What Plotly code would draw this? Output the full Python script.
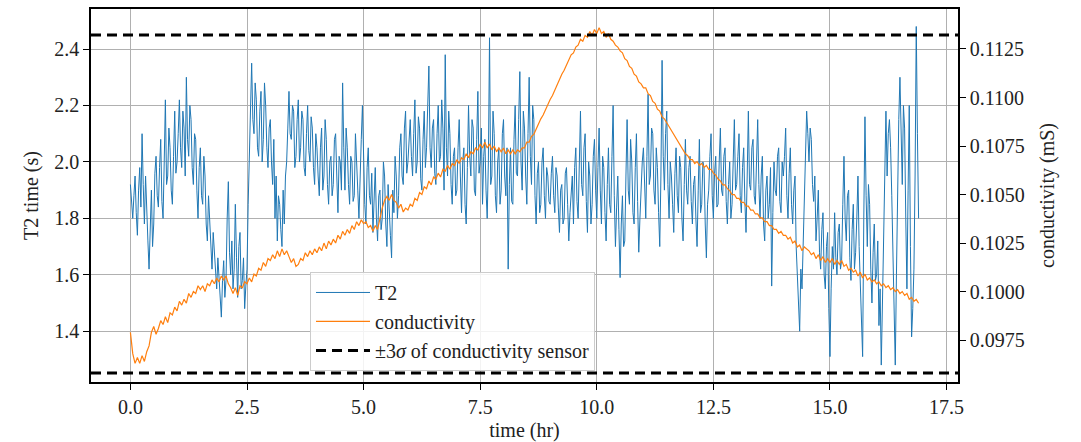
import plotly.graph_objects as go

# ---------------- data ----------------
T2_DT = 0.025  # hr between T2 samples
t2_values = [
    # 0.00 - 0.975
    1.92, 1.85, 1.80, 1.88, 1.95, 1.82, 1.74, 1.90, 1.98, 1.84, 2.10, 1.92, 1.78, 1.95, 1.86, 1.72, 1.62, 1.80, 1.90, 1.70,
    1.78, 1.96, 2.02, 1.88, 1.84, 1.98, 2.08, 1.86, 1.80, 2.00, 2.22, 1.92, 1.95, 2.12, 2.05, 1.90, 1.85, 2.02, 2.18, 1.96,
    # 1.00 - 1.975
    2.00, 2.10, 2.22, 2.05, 1.98, 2.18, 2.12, 1.95, 2.30, 2.08, 2.02, 2.20, 2.15, 1.98, 1.92, 2.10, 2.08, 1.90, 1.80, 1.98,
    2.05, 1.88, 1.85, 2.02, 1.95, 1.78, 1.72, 1.88, 1.80, 1.68, 1.62, 1.75, 1.68, 1.58, 1.55, 1.66, 1.60, 1.52, 1.45, 1.58,
    # 2.00 - 2.975
    1.65, 1.52, 1.58, 1.80, 1.93, 1.68, 1.60, 1.72, 1.55, 1.62, 1.85, 1.66, 1.52, 1.70, 1.75, 1.55, 1.58, 1.66, 1.48, 1.56,
    1.62, 1.85, 2.05, 2.18, 2.35, 2.15, 2.10, 2.28, 2.22, 2.05, 2.02, 2.18, 2.25, 2.00, 2.08, 2.28, 2.20, 2.05, 1.98, 2.12,
    # 3.00 - 3.975
    2.15, 2.00, 1.92, 2.08, 1.80, 1.95, 1.72, 1.88, 1.85, 1.76, 1.70, 1.90, 1.78, 1.95, 2.00, 2.12, 2.25, 2.10, 2.08, 2.20,
    2.18, 1.98, 2.02, 2.15, 2.22, 2.00, 2.05, 2.18, 2.15, 1.98, 1.95, 2.10, 2.20, 2.04, 2.00, 2.16, 2.12, 1.98, 1.92, 2.10,
    # 4.00 - 4.975
    2.05, 1.95, 1.88, 2.05, 2.12, 1.90, 1.95, 2.15, 2.08, 1.92, 1.85, 2.00, 2.02, 1.88, 1.92, 2.08, 2.10, 1.95, 1.82, 2.02,
    2.00, 1.90, 2.28, 2.05, 1.90, 2.12, 2.05, 1.92, 1.85, 2.02, 2.00, 1.86, 1.88, 2.10, 2.02, 1.90, 1.80, 1.98, 2.08, 2.20,
    # 5.00 - 5.975
    1.95, 1.85, 1.78, 1.98, 2.05, 1.88, 1.85, 1.96, 1.75, 1.90, 1.98, 1.80, 1.72, 1.88, 1.90, 1.76, 1.80, 2.00, 1.95, 1.78,
    1.70, 1.92, 1.85, 1.74, 1.66, 1.90, 1.82, 2.02, 1.95, 1.80, 1.88, 2.05, 2.10, 1.95, 1.92, 2.12, 2.18, 1.96, 2.00, 2.10,
    # 6.00 - 6.975
    2.15, 2.02, 1.95, 2.10, 2.22, 1.96, 2.00, 2.16, 2.12, 1.94, 1.90, 2.08, 2.18, 1.98, 2.05, 2.20, 2.34, 2.05, 1.98, 2.12,
    2.15, 1.96, 1.92, 2.10, 2.20, 2.00, 2.02, 2.22, 2.12, 1.90, 2.38, 2.05, 1.95, 2.18, 2.10, 1.92, 1.85, 2.02, 2.05, 1.88,
    # 7.00 - 7.975
    1.90, 2.05, 2.15, 1.95, 1.82, 2.00, 2.05, 1.85, 1.78, 1.98, 2.20, 2.02, 1.95, 2.15, 2.12, 1.90, 1.88, 2.08, 2.25, 1.96,
    2.00, 2.12, 1.85, 2.02, 2.08, 1.90, 1.80, 2.00, 2.44, 1.92, 1.95, 2.18, 2.10, 1.88, 1.82, 2.00, 2.05, 1.85, 1.90, 2.10,
    # 8.00 - 8.975
    2.15, 1.95, 1.88, 2.05, 1.62, 1.92, 2.05, 1.86, 1.85, 2.08, 2.20, 1.96, 1.95, 2.15, 2.32, 2.00, 1.90, 2.18, 2.12, 1.95,
    1.85, 2.10, 2.30, 2.02, 1.92, 2.20, 2.15, 1.88, 1.78, 1.96, 2.00, 1.82, 1.85, 2.00, 2.05, 1.88, 1.80, 1.98, 1.95, 1.86,
    # 9.00 - 9.975
    1.85, 1.96, 2.02, 1.88, 1.82, 1.98, 1.95, 1.84, 1.75, 1.90, 1.92, 1.78, 1.80, 1.96, 1.98, 1.85, 1.72, 1.82, 1.88, 1.95,
    1.78, 1.98, 2.05, 1.86, 1.80, 2.00, 2.18, 1.92, 1.88, 2.05, 2.10, 1.86, 1.75, 2.00, 1.95, 1.78, 1.85, 2.02, 2.08, 1.90,
    # 10.00 - 10.975
    1.80, 1.98, 2.12, 1.90, 1.78, 2.02, 1.98, 1.82, 1.72, 1.92, 2.05, 1.85, 1.82, 2.02, 2.20, 1.88, 1.70, 1.84, 1.95, 1.76,
    1.59, 1.78, 1.88, 1.70, 1.72, 1.95, 2.15, 1.90, 1.85, 2.08, 2.00, 1.82, 1.78, 1.98, 2.10, 1.86, 1.68, 1.80, 1.92, 2.00,
    # 11.00 - 11.975
    2.05, 1.88, 1.80, 2.02, 2.24, 1.92, 1.95, 2.12, 2.10, 1.90, 1.85, 2.05, 1.98, 1.82, 1.70, 1.95, 2.36, 2.02, 1.90, 2.10,
    2.18, 1.92, 1.80, 2.00, 1.95, 1.85, 1.75, 1.96, 2.05, 1.88, 1.82, 2.02, 1.98, 1.80, 1.72, 1.92, 2.08, 1.90, 1.85, 1.98,
    # 12.00 - 12.975
    2.02, 1.86, 1.78, 1.92, 1.95, 1.80, 1.70, 1.90, 2.08, 1.82, 1.85, 2.00, 1.98, 1.78, 1.66, 1.85, 1.90, 2.02, 2.10, 1.88,
    1.80, 1.96, 2.02, 1.84, 1.85, 2.00, 2.12, 1.90, 1.88, 2.02, 2.05, 1.86, 1.78, 1.92, 2.00, 1.80, 1.85, 2.00, 2.15, 1.90,
    # 13.00 - 13.975
    1.92, 2.02, 2.10, 1.88, 1.82, 1.98, 2.05, 1.86, 1.75, 1.95, 2.18, 1.92, 1.90, 2.05, 2.08, 1.88, 1.85, 2.00, 2.15, 1.92,
    1.80, 1.95, 2.02, 1.78, 1.72, 1.90, 1.95, 1.80, 1.85, 1.98, 1.56, 1.82, 2.00, 1.90, 1.88, 2.02, 2.05, 1.86, 1.82, 2.00,
    # 14.00 - 14.975
    1.95, 2.02, 2.12, 1.88, 1.80, 1.96, 2.05, 1.85, 1.78, 1.90, 1.95, 1.70, 1.62, 1.50, 1.40, 1.62, 1.55, 1.72, 1.85, 2.05,
    2.18, 2.10, 2.00, 2.12, 2.08, 1.92, 1.86, 1.95, 1.72, 1.80, 1.90, 1.68, 1.62, 1.76, 1.82, 1.60, 1.55, 1.70, 1.75, 1.48,
    # 15.00 - 15.975
    1.31, 1.55, 1.70, 1.62, 1.82, 1.66, 1.60, 1.75, 1.78, 1.62, 1.65, 1.85, 2.02, 1.80, 1.72, 1.88, 1.90, 1.66, 1.58, 1.76,
    1.85, 1.62, 1.68, 1.80, 1.95, 1.70, 1.55, 1.45, 1.31, 1.80, 2.16, 1.88, 1.70, 1.92, 1.85, 1.62, 1.50, 1.68, 1.78, 1.58,
    # 16.00 - 16.90
    1.60, 1.72, 1.42, 1.55, 1.28, 1.50, 1.75, 2.02, 2.18, 1.95, 2.10, 2.15, 2.05, 1.88, 1.70, 1.52, 1.28, 1.60, 1.95, 2.15,
    2.30, 2.05, 1.92, 2.20, 2.12, 1.80, 1.55, 1.90, 2.20, 1.70, 1.38, 1.48, 1.62, 1.95, 2.48, 2.10, 1.80,
]

COND_DT = 0.05  # hr between conductivity samples
cond_values = [
    # 0.00 - 0.95
    0.0979, 0.0968, 0.0963, 0.0966, 0.0963, 0.0967, 0.0964, 0.0969, 0.0972, 0.0979,
    0.0982, 0.0978, 0.0981, 0.0985, 0.0983, 0.0987, 0.0984, 0.0989, 0.0988, 0.0992,
    # 1.00 - 1.95
    0.0990, 0.0995, 0.0993, 0.0996, 0.0994, 0.0999, 0.0997, 0.1000, 0.0999, 0.1003,
    0.1001, 0.1003, 0.1000, 0.1004, 0.1003, 0.1006, 0.1004, 0.1007, 0.1005, 0.1008,
    # 2.00 - 2.95
    0.1006, 0.1008, 0.1004, 0.1002, 0.0999, 0.1002, 0.0998, 0.1003, 0.1002, 0.1005,
    0.1004, 0.1007, 0.1005, 0.1009, 0.1008, 0.1012, 0.1011, 0.1015, 0.1013, 0.1017,
    # 3.00 - 3.95
    0.1016, 0.1019, 0.1017, 0.1021, 0.1018, 0.1022, 0.1019, 0.1021, 0.1018, 0.1015,
    0.1017, 0.1013, 0.1014, 0.1017, 0.1016, 0.1020, 0.1018, 0.1021, 0.1019, 0.1022,
    # 4.00 - 4.95
    0.1020, 0.1023, 0.1021, 0.1025, 0.1022, 0.1026, 0.1024, 0.1027, 0.1025, 0.1029,
    0.1027, 0.1031, 0.1029, 0.1032, 0.1030, 0.1034, 0.1032, 0.1036, 0.1034, 0.1037,
    # 5.00 - 5.95
    0.1035, 0.1036, 0.1033, 0.1034, 0.1031, 0.1034, 0.1032, 0.1038, 0.1043, 0.1047,
    0.1049, 0.1047, 0.1050, 0.1047, 0.1046, 0.1043, 0.1045, 0.1041, 0.1043, 0.1042,
    # 6.00 - 6.95
    0.1045, 0.1044, 0.1048, 0.1047, 0.1051, 0.1050, 0.1054, 0.1053, 0.1057, 0.1055,
    0.1059, 0.1058, 0.1061, 0.1059, 0.1063, 0.1062, 0.1065, 0.1063, 0.1066, 0.1065,
    # 7.00 - 7.95
    0.1068, 0.1066, 0.1069, 0.1068, 0.1071, 0.1069, 0.1072, 0.1071, 0.1074, 0.1073,
    0.1076, 0.1074, 0.1077, 0.1074, 0.1076, 0.1073, 0.1075, 0.1072, 0.1074, 0.1072,
    # 8.00 - 8.95
    0.1074, 0.1071, 0.1073, 0.1071, 0.1073, 0.1071, 0.1073, 0.1072, 0.1074, 0.1074,
    0.1077, 0.1077, 0.1080, 0.1081, 0.1084, 0.1086, 0.1089, 0.1091, 0.1094, 0.1096,
    # 9.00 - 9.95
    0.1099, 0.1101, 0.1104, 0.1107, 0.1109, 0.1112, 0.1114, 0.1117, 0.1119, 0.1122,
    0.1123, 0.1126, 0.1127, 0.1130, 0.1129, 0.1132, 0.1131, 0.1134, 0.1132, 0.1135,
    # 10.00 - 10.95
    0.1133, 0.1136, 0.1133, 0.1134, 0.1131, 0.1133, 0.1130, 0.1129, 0.1127, 0.1126,
    0.1124, 0.1123, 0.1120, 0.1119, 0.1116, 0.1115, 0.1112, 0.1111, 0.1108, 0.1107,
    # 11.00 - 11.95
    0.1105, 0.1105, 0.1102, 0.1101, 0.1098, 0.1097, 0.1094, 0.1093, 0.1090, 0.1089,
    0.1087, 0.1085, 0.1083, 0.1081, 0.1079, 0.1077, 0.1075, 0.1073, 0.1071, 0.1070,
    # 12.00 - 12.95
    0.1068, 0.1068, 0.1066, 0.1067, 0.1065, 0.1066, 0.1064, 0.1065, 0.1063, 0.1063,
    0.1061, 0.1060, 0.1058, 0.1057, 0.1055, 0.1055, 0.1053, 0.1052, 0.1050, 0.1050,
    # 13.00 - 13.95
    0.1048, 0.1048, 0.1046, 0.1046, 0.1044, 0.1044, 0.1042, 0.1042, 0.1040, 0.1040,
    0.1038, 0.1038, 0.1036, 0.1036, 0.1034, 0.1034, 0.1032, 0.1032, 0.1030, 0.1031,
    # 14.00 - 14.95
    0.1029, 0.1029, 0.1027, 0.1028, 0.1025, 0.1026, 0.1023, 0.1024, 0.1021, 0.1023,
    0.1022, 0.1021, 0.1019, 0.1020, 0.1017, 0.1019, 0.1016, 0.1018, 0.1015, 0.1017,
    # 15.00 - 15.95
    0.1015, 0.1017, 0.1014, 0.1016, 0.1014, 0.1016, 0.1013, 0.1014, 0.1011, 0.1012,
    0.1010, 0.1011, 0.1008, 0.1010, 0.1007, 0.1009, 0.1006, 0.1007, 0.1005, 0.1006,
    # 16.00 - 16.90
    0.1004, 0.1005, 0.1003, 0.1004, 0.1002, 0.1003, 0.1001, 0.1002, 0.1000, 0.1001,
    0.0999, 0.1000, 0.0998, 0.0999, 0.0996, 0.0997, 0.0995, 0.0996, 0.0994,
]

sigma_bounds = [0.0958, 0.11322]  # ±3σ of conductivity sensor (mS)

x_ticks = [0.0, 2.5, 5.0, 7.5, 10.0, 12.5, 15.0, 17.5]
t2_ticks = [1.4, 1.6, 1.8, 2.0, 2.2, 2.4]
cond_ticks = [0.0975, 0.1000, 0.1025, 0.1050, 0.1075, 0.1100, 0.1125]

t2_time = [i * T2_DT for i in range(len(t2_values))]
cond_time = [i * COND_DT for i in range(len(cond_values))]

FONT = "Liberation Serif"
FS = 20

fig = go.Figure()
fig.add_trace(go.Scatter(x=t2_time, y=t2_values, mode="lines", name="T2",
                         line=dict(color="#1f77b4", width=1)))
fig.add_trace(go.Scatter(x=cond_time, y=cond_values, mode="lines", name="conductivity",
                         line=dict(color="#ff7f0e", width=1.2), yaxis="y2"))
fig.add_trace(go.Scatter(x=[None], y=[None], mode="lines", name="±3<i>σ</i> of conductivity sensor",
                         line=dict(color="black", width=3, dash="10px,6px"), yaxis="y2"))

for v in sigma_bounds:
    fig.add_shape(type="line", xref="x domain", x0=0, x1=1, yref="y2", y0=v, y1=v,
                  line=dict(color="black", width=3, dash="10px,6px"), layer="above")

axis_common = dict(showline=True, linecolor="black", linewidth=1.5, ticks="outside",
                   ticklen=6, tickwidth=1.2, tickcolor="black", zeroline=False,
                   automargin=False,
                   tickfont=dict(family=FONT, size=FS, color="#222"))

fig.update_layout(
    width=1081, height=442,
    margin=dict(l=91, r=123, t=9, b=60),
    paper_bgcolor="white", plot_bgcolor="white",
    font=dict(family=FONT, size=FS, color="#222"),
    xaxis=dict(range=[-0.845, 17.745], tickvals=x_ticks, tickformat=".1f",
               showgrid=True, gridcolor="#b0b0b0", gridwidth=1.2, mirror=True,
               title=dict(text="time (hr)", font=dict(family=FONT, size=FS), standoff=8),
               **axis_common),
    yaxis=dict(range=[1.22, 2.542], tickvals=t2_ticks, tickformat=".1f",
               showgrid=True, gridcolor="#b0b0b0", gridwidth=1.2, mirror=True,
               title=dict(text="T2 time (s)", font=dict(family=FONT, size=FS), standoff=10),
               **axis_common),
    yaxis2=dict(range=[0.09534, 0.11456], tickvals=cond_ticks, tickformat=".4f",
                overlaying="y", side="right", showgrid=False,
                title=dict(text="conductivity (mS)", font=dict(family=FONT, size=FS), standoff=16),
                **axis_common),
    legend=dict(x=0.2526, y=0.295, xanchor="left", yanchor="top",
                bgcolor="rgba(255,255,255,0.85)", bordercolor="#cccccc", borderwidth=1,
                font=dict(family=FONT, size=20, color="#222"), itemwidth=54),
    showlegend=True,
)

fig.write_html("out.html")
